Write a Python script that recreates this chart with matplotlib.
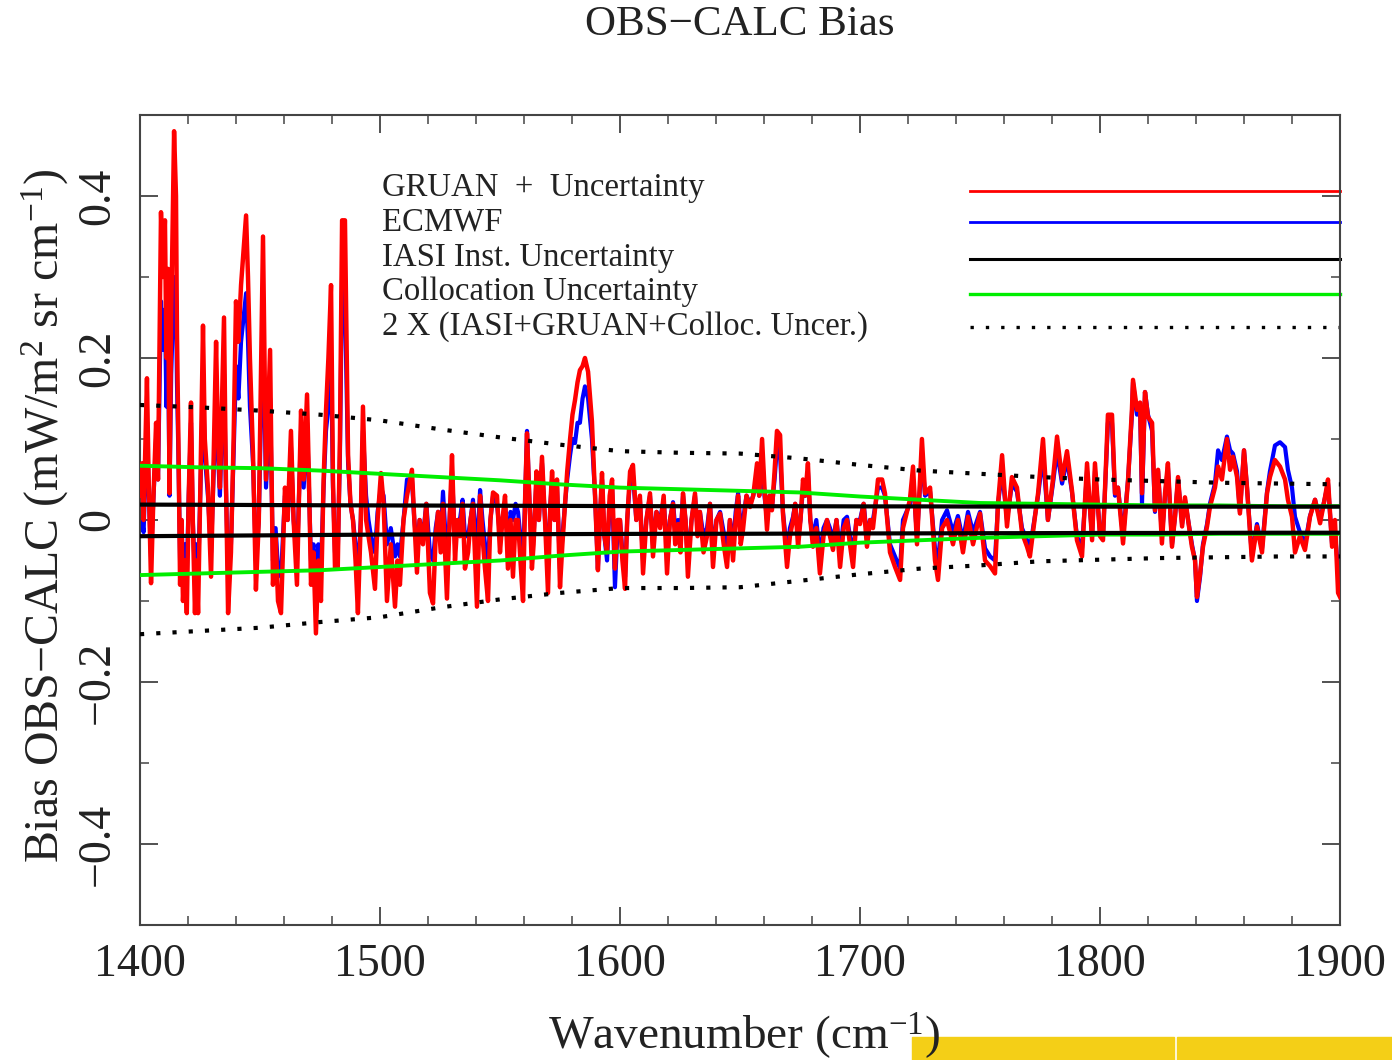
"""
OBS-CALC bias spectrum (1400-1900 cm-1) with the uncertainty envelopes.
"""

import matplotlib
matplotlib.use('Agg')
from matplotlib import pyplot as plt
from matplotlib.patches import Rectangle

plt.rcParams['font.family'] = ['Liberation Serif', 'DejaVu Serif']
plt.rcParams['mathtext.fontset'] = 'custom'
plt.rcParams['mathtext.rm'] = 'Liberation Serif'
plt.rcParams['mathtext.it'] = 'Liberation Serif:italic'

# bias spectra, values (turning points)
wavenumber = [
    1400.0, 1400.8, 1401.5, 1402.9, 1403.6, 1404.6, 1405.5, 1406.7, 1407.5, 1408.75,
    1409.5, 1410.4, 1411.0, 1411.7, 1412.3, 1413.0, 1414.2, 1415.0, 1415.4, 1416.0,
    1416.7, 1417.3, 1417.9, 1418.8, 1419.5, 1420.3, 1421.25, 1422.0, 1422.9, 1423.5,
    1424.2, 1425.2, 1426.25, 1427.0, 1428.3, 1429.6, 1430.5, 1431.7, 1432.5, 1433.3,
    1434.2, 1435.0, 1435.8, 1436.7, 1437.9, 1439.0, 1440.0, 1441.0, 1442.1, 1444.2,
    1445.0, 1445.8, 1447.1, 1448.3, 1449.5, 1451.25, 1452.5, 1454.2, 1455.4, 1456.5,
    1457.5, 1458.75, 1460.4, 1461.5, 1462.9, 1464.0, 1465.4, 1467.1, 1468.2, 1469.6,
    1470.4, 1471.25, 1472.3, 1473.3, 1474.3, 1475.4, 1476.5, 1477.5, 1478.5, 1479.6,
    1480.4, 1481.25, 1482.4, 1483.3, 1484.2, 1485.4, 1486.7, 1487.7, 1488.75, 1489.8,
    1490.8, 1492.0, 1492.9, 1494.2, 1495.2, 1496.25, 1497.9, 1499.0, 1500.4, 1501.5,
    1502.9, 1504.5, 1506.25, 1507.3, 1508.3, 1509.8, 1511.25, 1513.3, 1514.3, 1515.4,
    1516.5, 1517.9, 1519.3, 1520.8, 1522.1, 1523.2, 1524.2, 1525.3, 1526.25, 1527.9,
    1529.0, 1530.0, 1531.25, 1532.3, 1533.3, 1534.4, 1535.4, 1536.7, 1537.7, 1538.75,
    1540.4, 1541.7, 1542.7, 1543.75, 1545.0, 1546.0, 1547.1, 1548.75, 1550.0, 1551.0,
    1552.1, 1553.3, 1554.4, 1555.4, 1556.5, 1557.5, 1558.5, 1559.6, 1560.5, 1561.25,
    1562.3, 1563.3, 1564.0, 1565.2, 1566.2, 1567.5, 1568.75, 1570.0, 1571.0, 1571.7,
    1572.7, 1573.75, 1575.0, 1576.0, 1577.1, 1578.0, 1579.2, 1580.2, 1581.25, 1582.3,
    1583.3, 1584.4, 1585.4, 1586.7, 1588.3, 1589.6, 1590.8, 1591.6, 1592.5, 1593.5,
    1594.6, 1595.7, 1596.7, 1597.9, 1599.0, 1600.0, 1601.0, 1602.1, 1603.0, 1604.2,
    1605.4, 1606.8, 1608.3, 1609.6, 1611.0, 1612.5, 1613.75, 1615.2, 1616.7, 1618.2,
    1619.6, 1620.8, 1622.1, 1623.0, 1624.2, 1625.2, 1626.25, 1627.3, 1628.3, 1629.8,
    1631.25, 1632.3, 1633.3, 1634.8, 1636.25, 1637.5, 1638.75, 1640.2, 1641.7, 1643.2,
    1644.6, 1645.8, 1647.1, 1648.2, 1649.2, 1650.3, 1651.25, 1652.7, 1654.2, 1655.5,
    1657.1, 1658.0, 1659.2, 1660.2, 1661.25, 1662.3, 1663.3, 1664.4, 1665.4, 1666.7,
    1667.9, 1669.6, 1670.8, 1672.1, 1673.0, 1674.2, 1675.2, 1676.25, 1677.2, 1678.3,
    1679.3, 1680.4, 1681.8, 1683.3, 1684.8, 1686.25, 1687.5, 1688.75, 1690.2, 1691.7,
    1693.2, 1694.6, 1695.8, 1697.1, 1698.5, 1700.0, 1701.5, 1702.9, 1704.2, 1705.4,
    1706.5, 1707.5, 1709.2, 1710.4, 1712.5, 1714.6, 1716.7, 1717.9, 1720.8, 1722.1,
    1723.75, 1725.8, 1727.1, 1729.2, 1731.25, 1732.5, 1734.2, 1736.25, 1738.75, 1740.8,
    1742.9, 1745.0, 1747.1, 1750.0, 1752.1, 1754.2, 1756.25, 1757.5, 1759.2, 1761.25,
    1763.3, 1765.4, 1767.5, 1769.6, 1770.8, 1772.9, 1774.2, 1776.25, 1778.3, 1780.4,
    1782.1, 1784.2, 1786.25, 1788.3, 1790.4, 1792.5, 1794.6, 1796.7, 1797.9, 1800.0,
    1801.25, 1803.3, 1805.0, 1806.25, 1807.5, 1809.6, 1811.7, 1813.3, 1813.75, 1815.4,
    1816.7, 1817.5, 1818.75, 1820.0, 1821.7, 1822.9, 1824.2, 1825.8, 1827.1, 1828.3,
    1830.0, 1831.25, 1832.5, 1834.2, 1835.4, 1836.7, 1838.3, 1839.6, 1840.4, 1841.7,
    1842.9, 1844.6, 1845.8, 1847.9, 1849.2, 1850.8, 1852.9, 1854.2, 1855.4, 1857.1,
    1858.3, 1860.0, 1861.25, 1863.3, 1865.4, 1867.5, 1869.6, 1870.8, 1872.9, 1875.0,
    1877.1, 1878.3, 1880.0, 1881.25, 1883.3, 1885.4, 1887.5, 1889.6, 1891.7, 1893.75,
    1895.0, 1896.7, 1897.9, 1899.2, 1900.0,
]

gruanBias = [
    0.03, 0.07, 0.0, 0.175, 0.05, -0.078, 0.02, 0.12, 0.05, 0.38,
    0.30, 0.37, 0.20, 0.31, 0.033, 0.25, 0.48, 0.40, 0.23, 0.10,
    -0.08, 0.0, -0.10, -0.05, -0.115, 0.03, 0.145, 0.0, -0.115, -0.05,
    -0.115, 0.05, 0.24, 0.10, 0.04, -0.07, 0.05, 0.22, 0.10, 0.04,
    0.15, 0.25, 0.05, -0.115, -0.04, 0.10, 0.27, 0.22, 0.29, 0.376,
    0.30, 0.20, 0.08, -0.086, 0.0, 0.35, 0.05, 0.21, -0.08, -0.02,
    -0.10, -0.115, 0.04, 0.0, 0.11, 0.0, -0.08, 0.135, 0.05, 0.155,
    0.05, -0.08, -0.04, -0.14, -0.05, -0.10, 0.05, 0.135, 0.2, 0.29,
    0.05, -0.06, -0.06, 0.1, 0.37, 0.37, 0.08, 0.02, 0.0, -0.05,
    -0.115, 0.0, 0.14, 0.0, -0.02, -0.04, -0.085, 0.0, 0.058, 0.02,
    -0.10, -0.03, -0.107, -0.05, -0.08, 0.0, 0.03, 0.062, 0.0, -0.065,
    0.0, -0.03, 0.02, -0.09, -0.103, -0.02, 0.01, -0.04, 0.02, -0.097,
    0.0, 0.08, -0.05, 0.0, -0.02, 0.02, -0.06, -0.04, 0.0, 0.02,
    -0.107, 0.03, -0.02, -0.06, -0.1, 0.0, 0.034, 0.03, -0.04, 0.0,
    0.03, -0.06, 0.0, -0.07, 0.0, 0.0, -0.05, -0.1, 0.03, 0.107,
    0.02, -0.06, -0.03, 0.06, 0.0, 0.078, 0.0, -0.09, 0.02, 0.06,
    0.0, 0.05, -0.083, -0.03, 0.02, 0.06, 0.1, 0.13, 0.148, 0.17,
    0.185, 0.19, 0.2, 0.183, 0.122, 0.03, -0.062, 0.0, 0.058, -0.02,
    -0.04, 0.03, 0.05, -0.06, 0.0, 0.0, -0.05, -0.085, 0.0, 0.06,
    0.068, 0.0, 0.03, -0.066, 0.0, 0.033, -0.045, 0.01, -0.01, 0.03,
    -0.066, 0.0, 0.02, -0.03, -0.005, -0.04, 0.033, 0.0, -0.07, 0.0,
    0.033, -0.02, 0.01, -0.04, -0.02, 0.02, -0.058, 0.0, 0.008, -0.03,
    -0.058, 0.0, -0.05, 0.0, 0.03, -0.03, -0.012, 0.03, 0.016, 0.03,
    0.07, 0.03, 0.1, 0.04, -0.012, 0.03, 0.012, 0.06, 0.11, 0.105,
    0.008, -0.058, -0.02, 0.0, 0.02, -0.033, 0.0, 0.05, 0.03, 0.07,
    0.0, -0.033, -0.01, -0.066, -0.02, 0.0, -0.02, -0.037, 0.0, -0.058,
    -0.01, 0.0, -0.03, -0.058, 0.0, -0.005, 0.02, -0.033, 0.0, -0.01,
    0.02, 0.05, 0.05, 0.033, -0.04, -0.058, -0.074, -0.01, 0.025, 0.066,
    -0.03, 0.1, 0.033, 0.04, -0.05, -0.074, -0.01, 0.0, -0.03, 0.0,
    -0.04, 0.004, -0.03, 0.008, -0.05, -0.057, -0.066, 0.02, 0.08, -0.008,
    0.053, 0.04, -0.016, -0.033, -0.045, 0.004, 0.033, 0.1, 0.0, 0.05,
    0.103, 0.05, 0.085, 0.037, -0.025, -0.045, 0.07, -0.025, 0.07, -0.02,
    -0.025, 0.13, 0.13, 0.033, 0.04, -0.029, 0.05, 0.136, 0.173, 0.136,
    0.145, 0.033, 0.158, 0.127, 0.12, 0.012, 0.062, -0.029, 0.033, 0.07,
    -0.033, 0.004, 0.053, -0.008, 0.028, 0.0, -0.033, -0.05, -0.095, -0.066,
    -0.033, -0.008, 0.016, 0.04, 0.066, 0.05, 0.1, 0.062, 0.078, 0.053,
    0.008, 0.086, 0.04, -0.05, -0.008, -0.04, 0.033, 0.053, 0.074, 0.066,
    0.05, 0.025, 0.004, -0.04, -0.02, -0.037, 0.004, 0.025, -0.004, 0.028,
    0.05, -0.033, 0.0, -0.09, -0.095,
]

ecmwfBias = [
    0.01, 0.0, -0.015, 0.12, 0.04, -0.045, 0.02, 0.10, 0.05, 0.27,
    0.21, 0.26, 0.14, 0.22, 0.03, 0.18, 0.30, 0.27, 0.17, 0.08,
    -0.05, 0.0, -0.06, -0.03, -0.07, 0.03, 0.12, 0.0, -0.07, -0.03,
    -0.07, 0.04, 0.17, 0.08, 0.03, -0.04, 0.04, 0.15, 0.08, 0.03,
    0.12, 0.18, 0.04, -0.07, -0.03, 0.08, 0.19, 0.15, 0.22, 0.28,
    0.22, 0.14, 0.07, -0.05, 0.0, 0.25, 0.04, 0.15, -0.05, -0.01,
    -0.06, -0.07, 0.03, 0.0, 0.09, 0.0, -0.05, 0.11, 0.04, 0.12,
    0.04, -0.05, -0.03, -0.08, -0.03, -0.06, 0.04, 0.11, 0.14, 0.2,
    0.04, -0.04, -0.04, 0.08, 0.30, 0.27, 0.07, 0.02, 0.0, -0.03,
    -0.07, 0.0, 0.11, 0.03, 0.0, -0.02, -0.04, 0.01, 0.04, 0.03,
    -0.03, -0.01, -0.045, -0.03, -0.045, 0.0, 0.05, 0.05, 0.0, -0.035,
    0.0, -0.02, 0.02, -0.04, -0.05, -0.01, 0.01, -0.02, 0.035, -0.05,
    0.0, 0.06, -0.03, 0.0, 0.0, 0.025, -0.02, -0.02, 0.0, 0.025,
    -0.04, 0.037, 0.0, -0.03, -0.05, 0.0, 0.03, 0.02, -0.02, 0.0,
    0.02, -0.03, 0.01, 0.0, 0.02, 0.01, -0.02, -0.05, 0.03, 0.11,
    0.02, -0.04, -0.02, 0.05, 0.0, 0.07, 0.0, -0.05, 0.02, 0.05,
    0.0, 0.04, -0.06, -0.02, 0.02, 0.05, 0.08, 0.1, 0.095, 0.12,
    0.12, 0.15, 0.165, 0.15, 0.1, 0.03, -0.06, 0.0, 0.05, -0.02,
    -0.05, 0.02, 0.04, -0.083, -0.01, 0.0, -0.04, -0.07, 0.0, 0.05,
    0.055, 0.0, 0.025, -0.05, 0.0, 0.03, -0.03, 0.01, 0.0, 0.025,
    -0.04, 0.0, 0.022, -0.01, 0.0, -0.02, 0.03, 0.0, -0.05, 0.0,
    0.03, -0.01, 0.01, -0.02, -0.01, 0.02, -0.04, 0.0, 0.01, -0.015,
    -0.04, 0.0, -0.03, 0.01, 0.033, -0.01, 0.0, 0.03, 0.02, 0.03,
    0.051, 0.03, 0.08, 0.03, 0.0, 0.03, 0.015, 0.05, 0.09, 0.08,
    0.01, -0.04, -0.01, 0.004, 0.02, -0.02, 0.0, 0.04, 0.03, 0.06,
    0.0, -0.02, 0.0, -0.045, -0.01, 0.0, -0.01, -0.025, 0.0, -0.04,
    0.0, 0.004, -0.02, -0.04, 0.0, 0.0, 0.02, -0.02, 0.0, 0.0,
    0.02, 0.04, 0.04, 0.03, -0.03, -0.045, -0.06, 0.0, 0.02, 0.05,
    -0.02, 0.08, 0.03, 0.035, -0.035, -0.05, 0.0, 0.012, -0.015, 0.005,
    -0.025, 0.01, -0.015, 0.01, -0.035, -0.045, -0.05, 0.02, 0.06, 0.0,
    0.045, 0.035, -0.01, -0.025, -0.035, 0.005, 0.03, 0.08, 0.0, 0.045,
    0.085, 0.045, 0.075, 0.035, -0.02, -0.035, 0.06, -0.02, 0.06, -0.015,
    -0.02, 0.12, 0.12, 0.03, 0.04, -0.02, 0.05, 0.13, 0.17, 0.13,
    0.14, 0.02, 0.158, 0.13, 0.11, 0.01, 0.06, -0.02, 0.03, 0.065,
    -0.03, 0.004, 0.05, -0.005, 0.025, 0.0, -0.03, -0.05, -0.1, -0.07,
    -0.03, -0.005, 0.02, 0.045, 0.086, 0.074, 0.103, 0.086, 0.082, 0.06,
    0.01, 0.086, 0.04, -0.045, -0.005, -0.035, 0.035, 0.06, 0.092, 0.096,
    0.09, 0.062, 0.04, 0.004, -0.015, -0.03, 0.005, 0.025, 0.0, 0.028,
    0.045, -0.03, -0.016, -0.06, -0.05,
]

# uncertainty envelopes
envelopeWn = [1400, 1425, 1450, 1475, 1500, 1525, 1550, 1575, 1600, 1625, 1650,
              1675, 1700, 1725, 1750, 1775, 1800, 1825, 1850, 1875, 1900]
iasiUpper = [0.019, 0.0188, 0.0185, 0.0182, 0.018, 0.0178, 0.0176, 0.0174, 0.0172, 0.017, 0.017,
             0.017, 0.0168, 0.0168, 0.0166, 0.0166, 0.0165, 0.0165, 0.0165, 0.0165, 0.0165]
iasiLower = [-0.02, -0.0195, -0.019, -0.0185, -0.018, -0.0178, -0.0176, -0.0174, -0.0172, -0.017, -0.017,
             -0.0168, -0.0166, -0.0165, -0.0163, -0.0162, -0.016, -0.016, -0.0158, -0.0157, -0.0157]
collocUpper = [0.067, 0.065, 0.064, 0.061, 0.057, 0.053, 0.049, 0.044, 0.040, 0.038, 0.036,
               0.034, 0.029, 0.025, 0.021, 0.020, 0.019, 0.018, 0.018, 0.017, 0.017]
collocLower = [-0.068, -0.066, -0.064, -0.062, -0.058, -0.054, -0.05, -0.044, -0.039, -0.037, -0.035,
               -0.033, -0.028, -0.025, -0.022, -0.02, -0.018, -0.018, -0.017, -0.017, -0.017]
totalUpper = [0.142, 0.139, 0.135, 0.13, 0.123, 0.112, 0.102, 0.093, 0.085, 0.083, 0.082,
              0.076, 0.068, 0.061, 0.057, 0.053, 0.05, 0.048, 0.046, 0.045, 0.044]
totalLower = [-0.141, -0.137, -0.133, -0.126, -0.12, -0.108, -0.098, -0.09, -0.084, -0.084, -0.083,
              -0.075, -0.067, -0.06, -0.056, -0.051, -0.049, -0.047, -0.046, -0.045, -0.045]

legendLabels = ['GRUAN  +  Uncertainty', 'ECMWF', 'IASI Inst. Uncertainty',
                'Collocation Uncertainty', '2 X (IASI+GRUAN+Colloc. Uncer.)']

DOTTED = (0, (1, 2.9))


def plotBias(fName):
    fig = plt.figure(figsize=(13.92, 10.6), dpi=100)
    ax = fig.add_axes([140 / 1392, 1 - 925 / 1060, 1200 / 1392, 810 / 1060])

    ax.plot(wavenumber, ecmwfBias, color='#0000ff', lw=3.0, zorder=2)
    ax.plot(wavenumber, gruanBias, color='#ff0000', lw=3.2, zorder=3)
    for band in (collocUpper, collocLower):
        ax.plot(envelopeWn, band, color='#00ee00', lw=2.8, zorder=4)
    for band in (iasiUpper, iasiLower):
        ax.plot(envelopeWn, band, color='black', lw=3.0, zorder=5)
    for band in (totalUpper, totalLower):
        ax.plot(envelopeWn, band, color='black', lw=3.0, ls=DOTTED, zorder=6)

    # legend: text on the left, sample lines at the right edge
    styles = [dict(color='#ff0000', lw=2.0), dict(color='#0000ff', lw=2.0),
              dict(color='black', lw=2.2), dict(color='#00ee00', lw=2.4),
              dict(color='black', lw=2.4, ls=(0, (1, 3.6)))]
    textY = [0.910, 0.868, 0.8235, 0.7815, 0.7383]
    lineY = [0.9065, 0.8679, 0.8218, 0.779, 0.7386]
    for label, style, ty, ly in zip(legendLabels, styles, textY, lineY):
        ax.text(0.2017, ty, label, transform=ax.transAxes, fontsize=23.6,
                ha='left', va='center', color='#222222')
        ax.plot([0.6917, 1.0], [ly, ly], transform=ax.transAxes, clip_on=False, **style)

    ax.set_xlim(1400, 1900)
    ax.set_ylim(-0.5, 0.5)
    ax.set_xticks([1400, 1500, 1600, 1700, 1800, 1900])
    ax.set_xticks(range(1400, 1901, 20), minor=True)
    ax.set_yticks([-0.4, -0.2, 0.0, 0.2, 0.4])
    ax.set_yticklabels(['\u22120.4', '\u22120.2', '0', '0.2', '0.4'])
    ax.set_yticks([-0.5, -0.3, -0.1, 0.1, 0.3, 0.5], minor=True)
    ax.tick_params(which='both', direction='in', top=True, right=True, color='#444444')
    ax.tick_params(which='major', length=13, width=1.1)
    ax.tick_params(which='minor', length=6.5, width=1.1)
    ax.tick_params(axis='x', labelsize=33, pad=13, colors='#222222')
    ax.tick_params(axis='y', labelsize=33, pad=15, colors='#222222')
    for lbl in ax.get_yticklabels():
        lbl.set_rotation(90)
        lbl.set_va('center')
        lbl.set_ha('right')
    for spine in ax.spines.values():
        spine.set_color('#444444')
        spine.set_linewidth(1.5)

    ax.set_xlabel('Wavenumber (cm$^{-1}$)', fontsize=34, color='#222222')
    ax.xaxis.set_label_coords(0.503, -0.137)
    ax.xaxis.label.set_va('center')
    ax.set_ylabel('Bias OBS\u2212CALC (mW/m$^{2}$ sr cm$^{-1}$)', fontsize=34.5, color='#222222')
    ax.yaxis.set_label_coords(-0.079, 0.505)
    ax.yaxis.label.set_va('center')

    fig.text(740 / 1392, 1 - 25 / 1060, 'OBS\u2212CALC Bias', fontsize=31,
             ha='center', va='center', color='#222222')

    # yellow strip at the bottom right of the slide, behind the axis label
    fig.patches.append(Rectangle((912 / 1392, 0), 262 / 1392, 23 / 1060,
                                 transform=fig.transFigure, color='#f4cf17', zorder=-1))
    fig.patches.append(Rectangle((1177 / 1392, 0), 215 / 1392, 23 / 1060,
                                 transform=fig.transFigure, color='#f4cf17', zorder=-1))

    fig.savefig(fName, dpi=100)


if __name__ == '__main__':
    plotBias('out.png')
